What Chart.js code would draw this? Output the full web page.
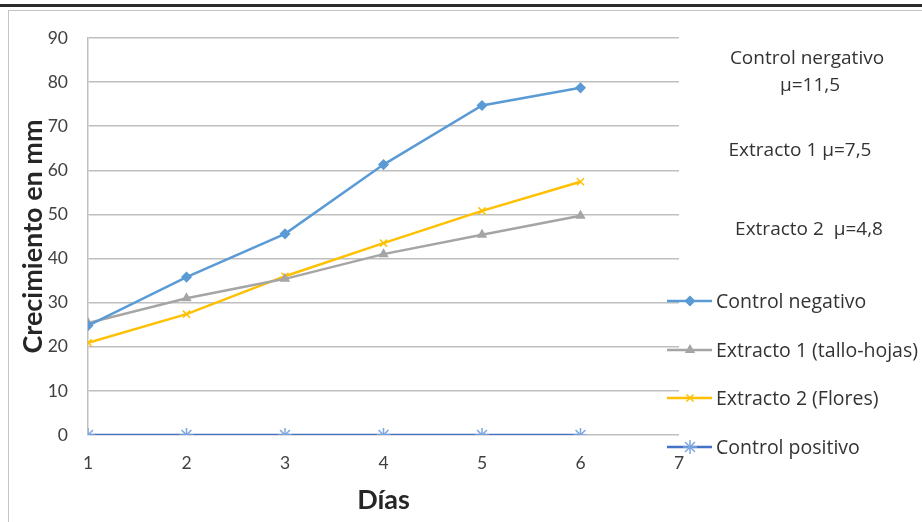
<!DOCTYPE html>
<html lang="es">
<head>
    <meta charset="UTF-8">
    <title>Crecimiento en mm</title>
    <style>
        body { margin: 0; background: #fff; }
        #wrap { position: relative; width: 922px; height: 522px; overflow: hidden; }
        #bar { position: absolute; left: 0; top: 4px; width: 922px; height: 3px; background: #2b2b2b; }
        #frame { position: absolute; left: 8px; top: 10px; width: 930px; height: 530px; border: 1px solid #c4c4c4; box-sizing: border-box; }
        canvas { position: absolute; left: 0; top: 0; }
    </style>
</head>
<body>
<div id="wrap">
    <div id="bar"></div>
    <div id="frame"></div>
    <canvas id="chart" width="922" height="522"></canvas>
</div>
<script src="https://cdn.jsdelivr.net/npm/chart.js"></script>
<script>
    // datos
    const dias = [1, 2, 3, 4, 5, 6];
    const controlNegativo = [24.8, 35.8, 45.6, 61.3, 74.7, 78.7];
    const extracto1 = [25.4, 31, 35.4, 41, 45.4, 49.7];
    const extracto2 = [20.9, 27.4, 36, 43.5, 50.8, 57.4];
    const controlPositivo = [0, 0, 0, 0, 0, 0];
    const nombres = ['Control negativo', 'Extracto 1 (tallo-hojas)', 'Extracto 2 (Flores)', 'Control positivo'];
    const notas = ['Control nergativo', 'μ=11,5', 'Extracto 1 μ=7,5', 'Extracto 2  μ=4,8'];

    const FONT = 'Lato, "Open Sans", sans-serif';
    const FONT2 = '"Open Sans", Lato, sans-serif';

    function serie(i, vals, color, estilo, radio, colorPunto) {
        return {
            label: nombres[i],
            data: dias.map((d, k) => ({ x: d, y: vals[k] })),
            borderColor: color,
            backgroundColor: colorPunto || color,
            pointBorderColor: colorPunto || color,
            borderWidth: 2.5,
            pointStyle: estilo,
            pointRadius: radio,
            pointBorderWidth: 1.5,
            tension: 0
        };
    }

    // leyenda y notas dibujadas a mano a la derecha
    const extras = {
        id: 'extras',
        afterDraw(chart) {
            const ctx = chart.ctx;
            ctx.save();
            ctx.font = '19px ' + FONT2;
            ctx.fillStyle = '#333';
            ctx.textBaseline = 'middle';
            ctx.textAlign = 'center';
            ctx.fillText(notas[0], 807, 59);
            ctx.fillText(notas[1], 810, 86);
            ctx.fillText(notas[2], 800, 151);
            ctx.fillText(notas[3], 809, 230);

            ctx.textAlign = 'left';
            ctx.font = '19.5px ' + FONT2;
            const ys = [301, 350, 398, 447];
            chart.data.datasets.forEach((ds, i) => {
                const y = ys[i];
                ctx.strokeStyle = ds.borderColor;
                ctx.lineWidth = 2.5;
                ctx.beginPath();
                ctx.moveTo(667, y);
                ctx.lineTo(712, y);
                ctx.stroke();
                ctx.lineWidth = 1.5;
                ctx.strokeStyle = ds.pointBorderColor;
                Chart.helpers.drawPoint(ctx, {
                    pointStyle: ds.pointStyle,
                    radius: ds.pointRadius,
                    borderWidth: 1.5,
                    rotation: 0
                }, 690, y);
                ctx.fillStyle = ds.backgroundColor;
                ctx.fill();
                ctx.fillStyle = '#333';
                ctx.fillText(ds.label, 716, y + 1);
            });
            ctx.restore();
        }
    };

    new Chart(document.getElementById('chart'), {
        type: 'line',
        data: {
            datasets: [
                serie(0, controlNegativo, '#5b9bd5', 'rectRot', 4.5),
                serie(1, extracto1, '#a5a5a5', 'triangle', 4.5),
                serie(2, extracto2, '#ffc000', 'crossRot', 5),
                serie(3, controlPositivo, '#4472c4', 'star', 7, '#7ea6e0')
            ]
        },
        options: {
            responsive: false,
            animation: false,
            layout: { padding: { left: 8, right: 243, top: 38, bottom: 6 } },
            plugins: { legend: { display: false }, tooltip: { enabled: false } },
            scales: {
                x: {
                    type: 'linear',
                    min: 1,
                    max: 7,
                    ticks: { stepSize: 1, padding: 18, color: '#404040', font: { family: FONT, size: 17.5 } },
                    grid: { display: false, drawTicks: false },
                    border: { display: false },
                    title: { display: true, text: 'Días', color: '#262626', padding: 0, font: { family: FONT, size: 27, weight: 'bold' } },
                    afterFit(s) { s.height = 81; }
                },
                y: {
                    min: 0,
                    max: 90,
                    ticks: { stepSize: 10, padding: 20, color: '#404040', font: { family: FONT, size: 17.5 } },
                    grid: { color: '#bfbfbf', lineWidth: 1.5, drawTicks: false },
                    border: { display: true, color: '#bfbfbf', width: 1.5 },
                    title: { display: true, text: 'Crecimiento en mm', color: '#262626', padding: { top: 9, bottom: 0 }, font: { family: FONT, size: 27, weight: 'bold' } },
                    afterFit(s) { s.width = 80; }
                }
            }
        },
        plugins: [extras]
    });
</script>
</body>
</html>
